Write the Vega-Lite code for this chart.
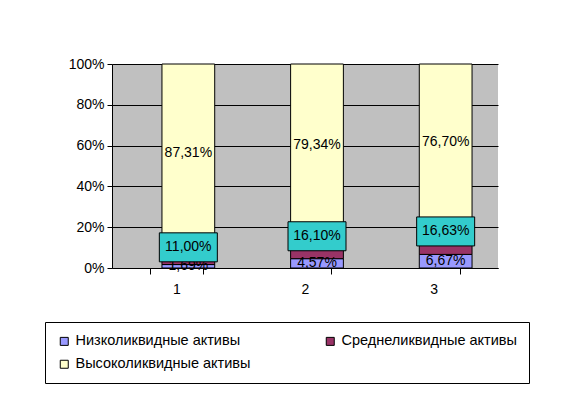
{
  "$schema": "https://vega.github.io/schema/vega-lite/v6.json",
  "width": 386,
  "height": 204,
  "autosize": {"type": "none"},
  "padding": {"left": 112, "top": 64, "right": 76, "bottom": 128},
  "background": "white",
  "config": {
    "font": "Liberation Sans",
    "view": {"fill": "#c0c0c0", "stroke": null}
  },
  "data": {
    "values": [
      {"cat": "1", "series": "Низколиквидные активы", "ord": 1, "value": 0.0169, "label": "1,69%"},
      {"cat": "1", "series": "Среднеликвидные активы", "ord": 2, "value": 0.11, "label": "11,00%"},
      {"cat": "1", "series": "Высоколиквидные активы", "ord": 3, "value": 0.8731, "label": "87,31%"},
      {"cat": "2", "series": "Низколиквидные активы", "ord": 1, "value": 0.0457, "label": "4,57%"},
      {"cat": "2", "series": "Среднеликвидные активы", "ord": 2, "value": 0.161, "label": "16,10%"},
      {"cat": "2", "series": "Высоколиквидные активы", "ord": 3, "value": 0.7933, "label": "79,34%"},
      {"cat": "3", "series": "Низколиквидные активы", "ord": 1, "value": 0.0667, "label": "6,67%"},
      {"cat": "3", "series": "Среднеликвидные активы", "ord": 2, "value": 0.1663, "label": "16,63%"},
      {"cat": "3", "series": "Высоколиквидные активы", "ord": 3, "value": 0.767, "label": "76,70%"}
    ]
  },
  "transform": [
    {"stack": "value", "groupby": ["cat"], "sort": [{"field": "ord"}], "as": ["v0", "v1"]},
    {"calculate": "(datum.v0 + datum.v1) / 2", "as": "mid"}
  ],
  "encoding": {
    "x": {
      "field": "cat",
      "type": "nominal",
      "title": null,
      "scale": {"paddingInner": 0.59, "paddingOuter": 0.295},
      "axis": {
        "labelAngle": 0,
        "labelFontSize": 14,
        "labelColor": "black",
        "domainColor": "black",
        "tickColor": "black",
        "tickBand": "extent",
        "tickSize": 6,
        "labelPadding": 8,
        "grid": false
      }
    }
  },
  "layer": [
    {
      "mark": {"type": "bar", "stroke": "black", "strokeWidth": 1, "xOffset": 12},
      "encoding": {
        "y": {
          "field": "v0",
          "type": "quantitative",
          "title": null,
          "scale": {"domain": [0, 1]},
          "axis": {
            "format": ".0%",
            "values": [0, 0.2, 0.4, 0.6, 0.8, 1],
            "labelFontSize": 14,
            "labelColor": "black",
            "domainColor": "black",
            "tickColor": "black",
            "tickSize": 5,
            "labelPadding": 3,
            "gridColor": "black",
            "gridOpacity": 1,
            "gridWidth": 1
          }
        },
        "y2": {"field": "v1"},
        "color": {
          "field": "series",
          "type": "nominal",
          "scale": {
            "domain": ["Низколиквидные активы", "Среднеликвидные активы", "Высоколиквидные активы"],
            "range": ["#9999FF", "#993366", "#FFFFCC"]
          },
          "legend": {
            "title": null,
            "orient": "none",
            "direction": "horizontal",
            "legendX": -67,
            "legendY": 258,
            "columns": 2,
            "strokeColor": "black",
            "fillColor": "white",
            "padding": 12,
            "symbolType": "square",
            "symbolSize": 64,
            "symbolStrokeColor": "black",
            "symbolStrokeWidth": 1,
            "symbolOpacity": 1,
            "labelFontSize": 14.5,
            "labelColor": "black",
            "rowPadding": 8,
            "columnPadding": 72,
            "labelLimit": 300
          }
        }
      }
    },
    {
      "transform": [{"filter": "datum.ord != 2"}],
      "mark": {"type": "text", "fontSize": 14, "color": "black", "xOffset": 12},
      "encoding": {
        "y": {"field": "mid", "type": "quantitative"},
        "text": {"field": "label"}
      }
    },
    {
      "transform": [{"filter": "datum.ord == 2"}],
      "mark": {
        "type": "point",
        "shape": "M-1,-0.5L1,-0.5L1,0.5L-1,0.5Z",
        "size": 3364,
        "filled": true,
        "fill": "#33CCCC",
        "stroke": "black",
        "strokeWidth": 1,
        "opacity": 1,
        "xOffset": 12,
        "yOffset": -6
      },
      "encoding": {
        "y": {"field": "mid", "type": "quantitative"}
      }
    },
    {
      "transform": [{"filter": "datum.ord == 2"}],
      "mark": {"type": "text", "fontSize": 14, "color": "black", "xOffset": 12, "yOffset": -6},
      "encoding": {
        "y": {"field": "mid", "type": "quantitative"},
        "text": {"field": "label"}
      }
    }
  ]
}
